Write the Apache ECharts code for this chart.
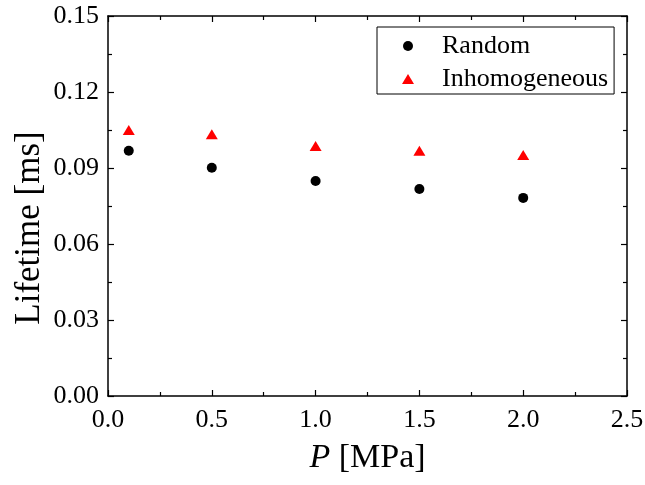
<!DOCTYPE html>
<html>
<head>
<meta charset="utf-8">
<script src="https://cdn.jsdelivr.net/npm/echarts@6/dist/echarts.min.js"></script>
<style>
html, body { margin: 0; padding: 0; background: #fff; }
#main { width: 645px; height: 485px; }
</style>
</head>
<body>
<div id="main"></div>
<script>
// 数据
var pressure = [0.1, 0.5, 1.0, 1.5, 2.0];
var randomLife = [0.0968, 0.0901, 0.0849, 0.0817, 0.0782];
var inhomLife = [0.1050, 0.1033, 0.0987, 0.0968, 0.0951];

var font = 'Liberation Serif';

function pairs(xs, ys) {
    return xs.map(function (x, i) { return [x, ys[i]]; });
}

var chart = echarts.init(document.getElementById('main'));

var axisLine = { show: true, onZero: false, lineStyle: { color: '#000', width: 1.5 } };
var tick = { show: true, inside: true, length: 6, lineStyle: { color: '#000', width: 1.2 } };
var minor = { show: true, splitNumber: 2, length: 4, lineStyle: { color: '#000', width: 1.2 } };

var option = {
    animation: false,
    grid: { left: 108, top: 16, right: 18, bottom: 89, outerBoundsMode: 'none' },
    legend: {
        orient: 'vertical',
        left: 377,
        top: 27,
        width: 236,
        padding: [6, 6, 2, 25],
        itemGap: 7,
        itemWidth: 12,
        itemHeight: 10,
        borderColor: '#000',
        borderWidth: 1,
        textStyle: { fontFamily: font, fontSize: 26, lineHeight: 26, color: '#000', padding: [0, 0, 0, 23] },
        data: [
            { name: 'Random', icon: 'circle' },
            { name: 'Inhomogeneous', icon: 'triangle' }
        ]
    },
    xAxis: [
        {
            type: 'value', min: 0, max: 2.5, interval: 0.5,
            axisLine: axisLine, axisTick: tick, minorTick: minor,
            splitLine: { show: false },
            axisLabel: {
                fontFamily: font, fontSize: 26, color: '#000', margin: 11,
                formatter: function (v) { return v.toFixed(1); }
            },
            name: '{i|P} [MPa]',
            nameLocation: 'middle',
            nameGap: 45,
            nameMoveOverlap: false,
            nameTextStyle: {
                fontFamily: font, fontSize: 34, color: '#000',
                rich: { i: { fontFamily: font, fontSize: 34, fontStyle: 'italic', color: '#000' } }
            }
        },
        {
            type: 'value', min: 0, max: 2.5, interval: 0.5, position: 'top',
            axisLine: axisLine, axisTick: tick, minorTick: minor,
            splitLine: { show: false }, axisLabel: { show: false }
        }
    ],
    yAxis: [
        {
            type: 'value', min: 0, max: 0.15, interval: 0.03,
            axisLine: axisLine, axisTick: tick, minorTick: minor,
            splitLine: { show: false },
            axisLabel: {
                fontFamily: font, fontSize: 26, color: '#000', margin: 9,
                formatter: function (v) { return v.toFixed(2); }
            },
            name: 'Lifetime [ms]',
            nameLocation: 'middle',
            nameGap: 61,
            nameMoveOverlap: false,
            nameTextStyle: { fontFamily: font, fontSize: 35, color: '#000', padding: [0, 44, 0, 0] }
        },
        {
            type: 'value', min: 0, max: 0.15, interval: 0.03, position: 'right',
            axisLine: axisLine, axisTick: tick, minorTick: minor,
            splitLine: { show: false }, axisLabel: { show: false }
        }
    ],
    series: [
        {
            name: 'Random',
            type: 'scatter',
            symbol: 'circle',
            symbolSize: 10,
            itemStyle: { color: '#000', opacity: 1 },
            data: pairs(pressure, randomLife)
        },
        {
            name: 'Inhomogeneous',
            type: 'scatter',
            symbol: 'triangle',
            symbolSize: [12, 10],
            itemStyle: { color: '#ff0000', opacity: 1 },
            data: pairs(pressure, inhomLife)
        }
    ]
};

chart.setOption(option);
</script>
</body>
</html>
